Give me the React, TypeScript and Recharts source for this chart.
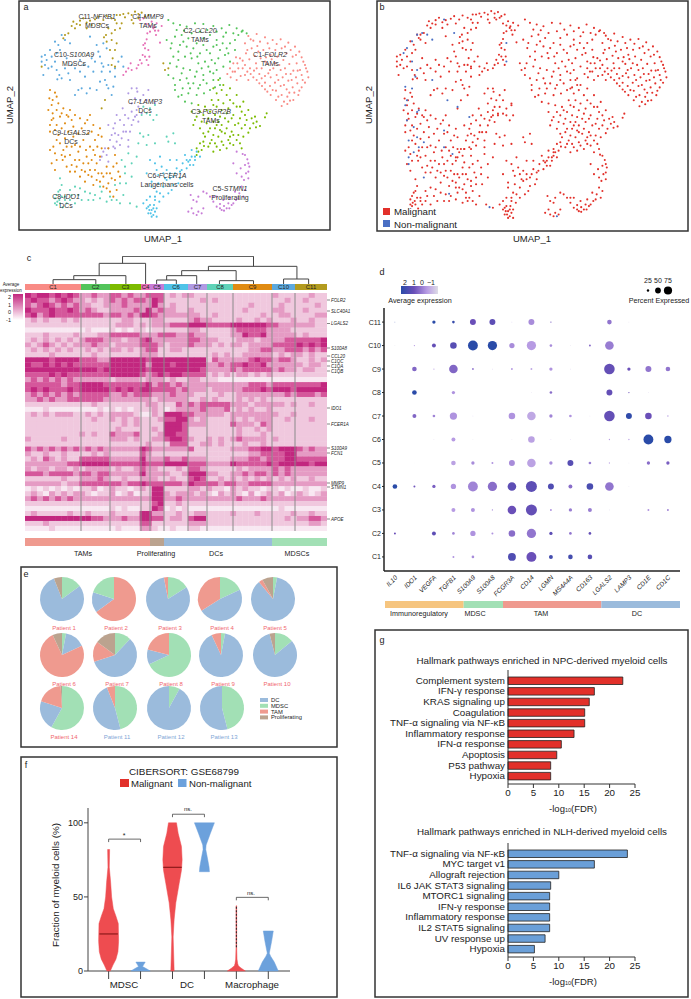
import React from "react";
import {
  Bar,
  BarChart,
  Cell,
  Pie,
  PieChart,
  ReferenceLine,
  Scatter,
  ScatterChart,
  XAxis,
  YAxis,
} from "recharts";

type Pt = [number, number];

// UMAP embedding
const c1: Pt[] = [[745,108],[770,102],[795,112],[818,120],[842,118],[865,128],[885,140],[898,155],[905,172],[915,195],[922,215],[925,232],[915,248],[905,262],[895,285],[880,300],[862,312],[845,318],[828,300],[812,285],[795,268],[778,250],[760,232],[742,215],[722,228],[705,215],[690,205],[682,222],[700,190],[720,175],[738,160],[755,145],[772,138],[790,150],[808,145],[826,150],[845,145],[860,160],[878,170],[890,190],[900,210],[888,232],[872,222],[855,205],[838,195],[820,205],[803,192],[785,205],[768,190],[750,205],[735,195],[748,178],[765,168],[782,175],[798,172],[815,178],[832,170],[850,180],[868,192],[880,212],[865,242],[848,232],[830,225],[812,232],[795,228],[778,222],[762,212],[745,240],[728,205],[710,240],[692,232],[842,258],[860,268],[878,262],[828,272],[845,285],[862,290],[810,258],[795,248],[825,248],[812,165],[905,225],[892,250],[735,130],[760,122],[708,172],[752,118],[780,125],[803,130],[830,132],[855,140],[872,150],[888,165],[910,185],[918,205],[908,240],[898,272],[870,302],[852,305],[835,290],[818,270],[802,275],[786,258],[770,240],[752,222],[735,225],[715,205],[698,215],[712,190],[728,182],[742,150],[775,155],[795,185],[810,210],[825,190],[842,210],[858,222],[875,240],[893,212],[883,278],[868,278],[852,255],[835,240],[805,220],[785,235],[770,205]];
const c2: Pt[] = [[505,60],[520,70],[540,75],[560,80],[585,70],[610,72],[640,78],[665,85],[688,75],[710,85],[725,95],[740,100],[500,120],[512,145],[525,110],[545,105],[565,115],[590,130],[610,115],[630,105],[650,120],[670,110],[690,130],[705,120],[660,150],[640,140],[620,150],[600,160],[580,145],[560,140],[540,135],[520,170],[535,180],[555,170],[575,175],[595,190],[615,185],[635,180],[655,175],[675,165],[690,185],[670,200],[650,210],[630,215],[610,225],[590,215],[570,210],[550,205],[530,200],[520,235],[540,240],[560,235],[580,250],[600,255],[620,250],[640,240],[660,235],[548,265],[565,280],[590,285],[612,280],[535,290],[555,305],[575,310],[630,270],[645,262],[728,92],[715,105],[680,145],[530,90],[552,92],[575,100],[600,95],[622,90],[650,95],[678,98],[700,100],[515,130],[535,155],[550,125],[572,160],[592,170],[610,135],[630,160],[650,135],[668,130],[685,160],[705,150],[645,190],[625,200],[605,205],[585,230],[565,250],[545,220],[525,255],[510,190],[505,225],[570,265],[595,265],[610,240],[640,220],[660,255],[545,285],[525,270]];
const c3: Pt[] = [[655,240],[670,255],[690,265],[710,285],[730,305],[650,280],[635,300],[615,320],[595,315],[575,335],[590,350],[610,345],[630,335],[650,320],[670,310],[690,300],[710,320],[725,335],[745,330],[765,350],[780,378],[760,370],[740,360],[720,355],[700,345],[680,340],[660,350],[640,365],[620,370],[600,385],[580,375],[625,395],[645,385],[665,375],[685,365],[705,375],[725,385],[745,398],[715,405],[695,395],[675,400],[655,410],[635,420],[615,410],[600,430],[590,445],[605,450],[625,440],[645,430],[665,425],[685,420],[700,435],[720,430],[680,445],[660,450],[725,445],[640,455],[750,385],[768,382],[655,365],[665,395],[690,410],[795,352],[800,340],[590,465],[610,425],[665,270],[680,285],[700,310],[720,320],[640,315],[620,330],[600,335],[585,360],[605,365],[625,355],[645,345],[665,330],[685,325],[735,345],[755,355],[770,365],[735,375],[715,370],[695,355],[675,355],[650,375],[630,385],[610,400],[640,405],[660,390],[680,385],[700,405],[730,410],[710,420],[690,430],[670,435],[650,440],[630,430],[612,438],[595,455],[655,300],[640,265]];
const c4: Pt[] = [[420,60],[440,72],[460,85],[475,92],[450,95],[468,105],[440,118],[430,135],[445,150],[428,165],[440,180],[425,190],[445,195],[392,190],[378,215],[370,225],[410,205],[485,78],[470,70],[455,65],[462,80],[480,128],[442,100],[435,145],[420,180],[395,210],[430,55],[450,78],[465,92],[435,130],[435,170],[448,170],[415,195],[385,205]];
const c5: Pt[] = [[710,455],[728,462],[742,478],[748,500],[738,520],[732,540],[725,560],[718,580],[708,600],[695,615],[680,625],[665,630],[650,620],[640,605],[630,590],[650,590],[670,600],[690,595],[705,575],[710,520],[722,505],[735,495],[610,575],[595,590],[580,600],[572,585],[565,635],[580,640],[595,635],[610,625],[688,625],[672,618],[700,490],[745,535],[730,590],[672,632],[735,465],[745,490],[725,530],[735,570],[715,595],[700,610],[685,610],[660,612],[640,590],[620,580],[590,605],[575,625],[590,645],[605,640],[660,625],[745,515]];
const c6: Pt[] = [[575,470],[565,485],[580,495],[570,480],[555,465],[548,490],[530,505],[510,520],[495,535],[520,530],[540,515],[560,505],[480,470],[465,490],[485,500],[500,510],[475,525],[455,560],[470,575],[490,560],[465,600],[450,615],[440,600],[430,610],[455,630],[445,640],[460,645],[470,625],[462,615],[450,590],[490,590],[505,580],[520,555],[540,535],[590,455],[600,470],[585,480],[455,650],[448,630],[465,635],[478,605],[530,480],[510,480],[450,480],[440,520],[475,550],[500,540],[570,495],[585,470],[545,510],[525,520],[510,535],[490,520],[470,510],[455,545],[480,580],[465,590],[445,620],[460,625],[452,640],[440,625],[470,650],[515,570],[535,550],[560,480],[575,450]];
const c7: Pt[] = [[410,265],[430,285],[405,295],[385,280],[395,310],[415,320],[425,340],[405,350],[395,375],[415,365],[378,395],[385,420],[365,415],[345,400],[360,435],[340,440],[320,465],[305,470],[315,445],[330,420],[345,370],[325,375],[350,345],[368,325],[385,355],[400,360],[410,345],[440,300],[465,310],[445,270],[325,485],[310,455],[350,425],[370,395],[395,265],[420,300],[410,330],[395,335],[375,345],[360,360],[340,385],[355,405],[372,375],[390,395],[345,445],[325,445],[300,480],[335,405],[385,440],[412,275]];
const c8: Pt[] = [[180,535],[185,555],[175,575],[165,595],[180,610],[170,615],[188,622],[178,600],[195,590],[210,570],[225,560],[240,565],[255,575],[270,580],[285,585],[300,595],[320,605],[335,600],[350,600],[370,585],[390,610],[410,620],[245,600],[265,600],[225,610],[210,600],[200,610],[440,340],[450,325],[430,320],[470,345],[465,315],[420,400],[445,405],[465,430],[440,435],[415,430],[505,425],[520,400],[525,430],[500,410],[365,480],[385,460],[375,500],[360,550],[378,550],[460,360],[395,530],[345,555],[300,560],[170,585],[185,590],[172,605],[195,600],[215,585],[235,585],[280,600],[305,575],[330,590],[360,610],[425,345],[450,345],[430,410],[410,470],[395,490],[375,520],[180,570],[165,610]];
const c9: Pt[] = [[150,270],[165,278],[148,295],[155,315],[145,330],[158,340],[175,310],[190,325],[210,330],[200,345],[180,350],[160,355],[150,375],[170,375],[195,370],[215,360],[240,355],[262,360],[280,375],[300,385],[150,395],[175,405],[195,415],[220,410],[245,385],[265,400],[285,420],[305,410],[180,430],[160,440],[165,460],[155,490],[165,510],[200,440],[225,435],[250,420],[270,440],[292,440],[185,465],[210,465],[235,455],[260,470],[285,465],[305,445],[215,495],[225,515],[245,510],[265,490],[290,490],[320,500],[350,490],[240,530],[265,525],[285,510],[310,530],[330,520],[355,515],[345,540],[325,550],[310,560],[330,575],[350,570],[290,540],[280,555],[255,545],[200,500],[188,480],[238,480],[150,450],[345,465],[325,445],[170,330],[220,380],[270,345],[155,360],[305,520],[158,300],[170,290],[185,340],[205,350],[225,345],[165,390],[185,385],[205,395],[235,400],[255,370],[275,395],[295,405],[170,420],[190,450],[215,440],[240,440],[258,450],[280,450],[300,470],[170,480],[195,470],[225,480],[250,490],[275,480],[230,500],[255,515],[275,530],[295,520],[320,520],[340,500],[335,535],[360,530],[300,545],[320,565],[340,590],[270,510],[210,515]];
const c10: Pt[] = [[185,105],[165,125],[175,135],[150,150],[135,165],[125,185],[135,195],[130,225],[145,205],[165,185],[178,225],[185,235],[172,238],[195,205],[215,195],[240,180],[265,200],[285,185],[300,170],[320,145],[290,135],[270,110],[305,215],[315,240],[300,245],[325,265],[335,285],[270,265],[245,265],[225,285],[210,240],[355,185],[370,200],[325,195],[345,230],[255,230],[180,150],[200,175],[155,170],[125,170],[305,190],[240,215],[195,120],[210,130],[170,160],[140,180],[155,200],[170,210],[205,220],[225,205],[250,195],[275,175],[295,155],[310,130],[310,200],[330,215],[320,255],[340,260],[290,270],[260,280],[235,270],[345,205],[365,170],[280,215]];
const c11: Pt[] = [[220,65],[240,62],[260,68],[285,58],[310,60],[335,55],[360,45],[385,40],[405,35],[425,38],[445,45],[365,70],[345,90],[325,85],[335,120],[320,125],[350,130],[330,150],[338,175],[345,200],[225,85],[205,100],[190,115],[300,72],[275,75],[415,55],[395,60],[375,52],[350,70],[490,190],[495,210],[505,205],[315,300],[305,325],[125,200],[318,105],[240,75],[260,85],[350,45],[230,72],[250,55],[270,62],[295,50],[320,48],[345,60],[370,42],[395,45],[415,42],[435,50],[360,85],[335,100],[312,112],[345,150],[335,195],[215,78],[195,105],[400,70]];
const nonMalignant: Pt[] = [[185,105],[200,100],[215,105],[230,120],[265,60],[295,100],[170,125],[155,145],[145,160],[170,185],[185,210],[180,230],[230,240],[150,260],[170,265],[155,300],[150,315],[185,335],[275,300],[305,320],[340,350],[155,360],[175,380],[160,420],[185,410],[205,425],[190,440],[160,470],[160,490],[205,530],[280,578],[450,130],[450,185],[400,618],[600,645],[190,330],[265,390],[290,460],[265,440],[175,455]];

const clusterNames = ["C1","C2","C3","C4","C5","C6","C7","C8","C9","C10","C11"];
const clusterSizes = [56,29,31,9,14,24,19,26,39,23,32];
const clusterColors = ["#F98B85","#53C45A","#7CBB00","#E66FB6","#C77CD7","#4FC3E8","#B09AE3","#5FD3B8","#E08B12","#5CA9DE","#B39B1F"];
const clusterPoints = [c1,c2,c3,c4,c5,c6,c7,c8,c9,c10,c11];

// heatmap expression levels 0-4, one row per gene band, grouped by cluster
const heatRows = [
  "434434343 22322 33232 23 33 1212 211 1111 1111111 2111 11211",
  "343323432 21212 32323 32 43 1111 112 1211 1111111 1121 12111",
  "323432323 22112 22322 22 42 1211 111 1111 1112111 1211 11121",
  "433343343 23211 22223 24 23 2211 211 1111 1121111 2211 12111",
  "342343333 33332 33232 44 32 2222 221 1211 1111121 1221 11122",
  "121211212 11111 11221 11 22 1111 232 2111 1211212 1112 11211",
  "111111111 11111 12221 21 22 2333 444 3333 4444443 3222 22211",
  "000000000 01000 10101 10 11 1111 221 1111 2333332 2221 11111",
  "111211112 11122 33333 22 23 3322 322 1111 2243342 2222 12111",
  "121212121 23332 22122 34 22 2222 332 2211 1222122 2233 33334",
  "212321212 22322 12222 33 32 1222 322 2121 2212222 3333 43434",
  "121212121 12121 22121 23 31 1221 111 1111 1112233 2233 32323",
  "111121111 11211 11111 22 21 1111 111 1212 1122222 1212 21211",
  "444434444 33322 44444 43 44 4444 444 1322 2223433 2332 11212",
  "433434343 33333 44444 42 44 4344 444 2232 3343342 2222 21221",
  "444444444 44434 44444 43 44 4444 443 2222 3233333 2322 12211",
  "333343433 33333 44444 32 34 3443 333 1212 1221212 1111 11111",
  "232323232 22222 12222 12 22 1211 221 1100 0000000 0000 00000",
  "333333233 44443 33333 34 23 3232 222 2222 2223332 3333 33334",
  "343433343 44444 34343 44 33 3323 222 1222 2233343 4443 44444",
  "232323232 33333 22323 33 22 2322 211 1121 1222222 2232 33323",
  "223232233 33332 22222 22 12 2222 112 1211 1212121 1111 11111",
  "111111111 11211 11111 12 21 1132 323 3333 2221222 2212 11211",
  "000100000 00010 10101 11 21 0122 223 2223 1212112 1111 11111",
  "121212221 12121 22221 00 21 4443 322 2221 2222222 2112 11111",
  "111111111 11211 21212 11 12 3344 212 1111 2121222 1121 11211",
  "111111111 11111 11212 11 11 4443 222 1111 3222132 1111 11111",
  "111111111 11111 12111 11 21 4443 111 1111 1211212 1111 11111",
  "111111111 21211 32223 11 12 4433 111 1111 1211121 1111 11111",
  "211111211 11111 22212 11 22 3443 211 2121 2322221 2111 11111",
  "111111111 11111 11111 12 11 1333 112 2121 1121121 1111 11111",
  "323232323 23232 22222 43 22 2222 311 1111 2223344 3444 32322",
  "211211211 11212 11111 32 11 1111 111 1111 1112233 3344 22222",
  "121321211 33333 22222 42 22 3223 222 1111 2223323 3344 33333",
  "222222233 44444 33333 43 33 4444 333 2222 4333334 3444 44344",
  "212212212 12222 12112 32 21 1121 332 1111 1212222 3232 22222",
  "333233332 33233 22222 42 22 2112 444 2211 2232332 3232 22222",
  "111111211 22232 11211 22 21 1211 343 1121 2121212 1212 11211",
  "222222122 33333 33233 43 33 3332 433 3323 3223333 2222 22222",
  "010101010 11201 21101 21 44 1111 221 2110 2121101 1010 01001",
  "121021212 21011 20120 11 44 2122 212 1021 2102012 1201 21012",
  "232323232 22222 22222 22 44 2232 222 2222 2322232 2222 22222",
  "111111111 11111 11111 11 34 1121 111 1111 1111111 1111 11111",
  "000000000 00000 10100 11 43 0101 000 0000 0000000 0100 00000",
  "121111121 12111 21111 44 22 1121 122 1111 2111211 1112 11211",
  "444444444 44332 22322 44 33 1221 344 1111 1111111 1121 22332",
  "111211111 11111 11111 33 11 1111 222 1111 1111111 1111 11221",
  "000010000 00000 01000 22 10 0100 110 0000 0000000 0000 00000",
];
const heatColors = ["#F8E8F2","#F0C8DE","#E59BC4","#D5579B","#C2277F"];
const geneMarks = ["FOLR2","SLC40A1","LGALS2","S100A8","CCL20","C1QC","C1QA","C1QB","IDO1","FCER1A","S100A9","FCN1","MMP9","STMN1","APOE"];
const geneMarkY = [300,311,323.5,348,356,361,366,371,408,424,448,453,483,487,519];

// [left x, left height, right x, right height, merge height]
const dendroMerges = [
  [160,0,288,0,13],
  [222,13,378,0,25],
  [298,25,437,0,62],
  [470,0,529,0,12],
  [500,12,590,0,25],
  [658,0,760,0,10],
  [545,25,708,10,40],
  [850,0,925,0,15],
  [625,40,890,15,53],
  [368,62,760,53,83],
];

const lineageNames = ["TAMs","Proliferating","DCs","MDSCs"];
const lineageSizes = [125,14,108,55];
const lineageColors = ["#EF9A8F","#BBA38F","#9BBBDC","#A2E0B5"];

// dot plot
const dotGenes = ["IL10","IDO1","VEGFA","TGFB1","S100A9","S100A8","FCGR3A","CD14","LGMN","MS4A4A","CD163","LGALS2","LAMP3","CD1E","CD1C"];
const dotPercent: Record<string, number[]> = {
  C11: [6,0,30,24,54,54,6,54,12,0,0,42,6,0,0],
  C10: [6,12,36,60,90,84,48,84,24,6,18,78,0,0,0],
  C9: [0,42,12,78,18,6,18,18,30,6,0,96,30,54,42],
  C8: [0,42,0,30,0,0,0,6,24,0,0,54,12,6,0],
  C7: [0,36,24,66,6,0,60,78,30,24,6,96,54,60,12],
  C6: [0,0,6,36,6,0,6,60,6,6,0,12,12,90,66],
  C5: [0,3,0,42,30,18,54,78,30,54,24,12,6,30,30],
  C4: [42,18,30,48,90,84,78,100,54,36,60,78,6,0,0],
  C3: [0,0,0,36,36,12,78,100,18,30,36,6,0,18,18],
  C2: [18,0,36,24,48,18,60,84,30,24,24,0,0,0,0],
  C1: [0,0,0,18,24,0,72,90,36,42,42,0,0,0,0],
};
const dotExpression: Record<string, number[]> = {
  C11: [1.8,0,2,1.8,1,1.2,-0.3,0.2,0.8,0,0,0.5,-0.8,0,0],
  C10: [-1,0,1.1,1.3,2,2,0.2,0,0.2,-0.8,0.6,0.4,0,0,0],
  C9: [0,0.7,-0.2,0.7,0.4,-0.3,0,-0.2,0.1,-0.5,0,1.1,1,0.5,0.5],
  C8: [0,2,0,0.1,0,0,0,-0.6,0.6,0,0,1.1,0.9,-0.5,0],
  C7: [0,0.7,0.3,0.1,-0.3,0,0.1,-0.2,0.3,0.1,-0.6,1.1,1.9,1,0.1],
  C6: [0,0,-0.5,0,-0.8,0,-0.7,-0.1,-0.3,-0.3,0,0,0,2,2],
  C5: [0,-1,0,-0.1,0.2,0.1,0.2,-0.1,0.2,1.3,0.4,-0.2,-0.8,0.6,0.8],
  C4: [2,0.9,0.8,0.1,0.3,0.6,1.2,1.2,1.4,0.6,1.5,0.5,-0.7,0,0],
  C3: [0,0,0,0,0.1,0.2,1,1.1,0.1,0.4,0.4,-0.6,0,0.1,0.3],
  C2: [1,0,1.2,0.3,0.1,0.1,0.6,0.5,1.2,0.5,1.1,0,0,0,0],
  C1: [0,0,0,0.1,0.2,0,1.4,1,1.6,1.6,1.3,0,0,0,0],
};
const geneGroups = ["Immunoregulatory","MDSC","TAM","DC"];
const geneGroupSizes = [4,2,5,4];
const geneGroupColors = ["#F6C57F","#A2E0B5","#EF9A8F","#9BBBDC"];

// pies
const patientNames = ["Patient 1","Patient 2","Patient 3","Patient 4","Patient 5","Patient 6","Patient 7","Patient 8","Patient 9","Patient 10","Patient 14","Patient 11","Patient 12","Patient 13"];
const patientMDSC = [15,20,16,18,3,3,12,68,3,14,58,46,8,46];
const patientDC = [79,15,81,48,86,15,58,11,90,82,22,48,92,54];
const patientTAM = [0,65,3,34,3,75,15,21,7,0,19,6,0,0];
const patientProlif = [6,0,0,0,8,7,15,0,0,4,1,0,0,0];
const sliceNames = ["DC","MDSC","TAM","Proliferating"];

// violins: [fraction %, half width]
const violinMdscMal: Pt[] = [[82,3],[70,2],[60,6],[50,9],[42,14],[37,22],[32,29],[20,30],[13,28],[8,22],[4,13],[0,5]];
const violinMdscNon: Pt[] = [[6,14],[4.5,10],[3,6],[1.5,18],[0,29]];
const violinDcMal: Pt[] = [[100,12],[93,17],[84,27],[75,29],[68,27],[59,20],[46,10],[35,5],[23,2],[0,5]];
const violinDcNon: Pt[] = [[100,30],[93,18],[85,5],[82,4],[75,10],[70,14],[67,15]];
const violinMacMal: Pt[] = [[44,1],[16,1],[8,2],[5,4],[3.5,6],[2,14],[0,27]];
const violinMacNon: Pt[] = [[27,15],[20,10],[12,3],[10,7],[6,18],[0,30]];
const violinList = [violinMdscMal,violinMdscNon,violinDcMal,violinDcNon,violinMacMal,violinMacNon];
const violinMedians = [25,null,70,null,null,null];
const violinGroups = ["MDSC","DC","Macrophage"];

// hallmark bars
const npcPathways = ["Complement system","IFN-γ response","KRAS signaling up","Coagulation","TNF-α signaling via NF-κB","Inflammatory response","IFN-α response","Apoptosis","P53 pathway","Hypoxia"];
const npcFdr = [22.6,17,16,15.1,15.1,13,10.5,9.6,8.4,8.4];
const nlhPathways = ["TNF-α signaling via NF-κB","MYC target v1","Allograft rejection","IL6 JAK STAT3 signaling","MTORC1 signaling","IFN-γ response","Inflammatory response","IL2 STAT5 signaling","UV response up","Hypoxia"];
const nlhFdr = [23.5,17,10,8.4,8.2,8.2,8.2,8.2,7.3,5.2];

const FONT = "'Liberation Sans', Arial, sans-serif";
const INK = "#222";
const RED = "#E2302A";
const BLUE = "#4A6FC4";
const VIOLIN_RED = "#EE4C50";
const VIOLIN_BLUE = "#6CA1DC";
const NONE = { top: 0, right: 0, bottom: 0, left: 0 };

const Place = ({ x, y, children }: any) => (
  <div style={{ position: "absolute", left: x, top: y }}>{children}</div>
);

const T = ({ x, y, size = 8, anchor = "middle", fill = INK, italic, rotate, children }: any) => (
  <text
    x={x}
    y={y}
    fontSize={size}
    textAnchor={anchor}
    dominantBaseline="central"
    fill={fill}
    fontStyle={italic ? "italic" : undefined}
    transform={rotate ? `rotate(${rotate} ${x} ${y})` : undefined}
  >
    {children}
  </text>
);

const toXY = (pts: Pt[]) => pts.map(([x, y]) => ({ x, y }));

const tinyDot = (r: number) => (p: any) => <circle cx={p.cx} cy={p.cy} r={r} fill={p.fill} />;

const Umap = ({ x, y, w, h, xDomain, yDomain, layers }: any) => (
  <Place x={x} y={y}>
    <ScatterChart width={w} height={h} margin={NONE}>
      <XAxis type="number" dataKey="x" domain={xDomain} hide />
      <YAxis type="number" dataKey="y" domain={yDomain} reversed hide />
      {layers.map((l: any, i: number) => (
        <Scatter key={i} data={toXY(l.points)} fill={l.color} shape={tinyDot(1.05)} isAnimationActive={false} />
      ))}
    </ScatterChart>
  </Place>
);

const StackBar = ({ x, y, w, h, names, sizes, colors }: any) => {
  const row: any = {};
  names.forEach((n: string, i: number) => (row[n] = sizes[i]));
  const total = sizes.reduce((a: number, b: number) => a + b, 0);
  return (
    <Place x={x} y={y}>
      <BarChart layout="vertical" width={w} height={h} data={[row]} margin={NONE} barCategoryGap={0}>
        <XAxis type="number" domain={[0, total]} hide />
        <YAxis type="category" hide />
        {names.map((n: string, i: number) => (
          <Bar key={n} dataKey={n} stackId="s" fill={colors[i]} isAnimationActive={false} />
        ))}
      </BarChart>
    </Place>
  );
};

const HEAT_W = 302;
const HEAT_H = 238;
const HEAT_COLS = 50;
const heatCells = heatRows.flatMap((row, r) =>
  row.replace(/ /g, "").split("").map((level, c) => ({ col: c + 0.5, row: r + 0.5, level: Number(level) }))
);
const heatCell = (p: any) => {
  const w = HEAT_W / HEAT_COLS + 0.3;
  const h = HEAT_H / heatRows.length + 0.3;
  return <rect x={p.cx - w / 2} y={p.cy - h / 2} width={w} height={h} fill={heatColors[p.payload.level]} />;
};
const boundaries = clusterSizes.slice(0, -1).map((_, i) => clusterSizes.slice(0, i + 1).reduce((a, b) => a + b, 0));

const Heatmap = () => (
  <Place x={25} y={293}>
    <ScatterChart width={HEAT_W} height={HEAT_H} margin={NONE}>
      <XAxis type="number" dataKey="col" domain={[0, HEAT_COLS]} hide />
      <YAxis type="number" dataKey="row" domain={[0, heatRows.length]} reversed hide />
      <Scatter data={heatCells} shape={heatCell} isAnimationActive={false} />
      {boundaries.map((b) => (
        <Scatter
          key={b}
          data={[{ col: (b / HEAT_W) * HEAT_COLS, row: 0 }, { col: (b / HEAT_W) * HEAT_COLS, row: heatRows.length }]}
          line={{ stroke: "#8A8A8A", strokeWidth: 1 }}
          shape={() => <g />}
          isAnimationActive={false}
        />
      ))}
    </ScatterChart>
  </Place>
);

const Dendrogram = () => (
  <Place x={25} y={255.5}>
    <ScatterChart width={HEAT_W} height={28} margin={NONE}>
      <XAxis type="number" dataKey="x" domain={[76, 980]} hide />
      <YAxis type="number" dataKey="y" domain={[0, 84]} hide />
      {dendroMerges.map(([lx, lh, rx, rh, h], i) => (
        <Scatter
          key={i}
          data={[{ x: lx, y: lh }, { x: lx, y: h }, { x: rx, y: h }, { x: rx, y: rh }]}
          line={{ stroke: "#444", strokeWidth: 1 }}
          shape={() => <g />}
          isAnimationActive={false}
        />
      ))}
    </ScatterChart>
  </Place>
);

const exprStops: [number, number[]][] = [
  [-1, [222, 220, 230]],
  [0, [183, 155, 227]],
  [1, [106, 79, 184]],
  [2, [42, 75, 168]],
];
const exprColor = (v: number) => {
  let i = 0;
  while (i < exprStops.length - 2 && v > exprStops[i + 1][0]) i++;
  const [a, ca] = exprStops[i];
  const [b, cb] = exprStops[i + 1];
  const t = Math.max(0, Math.min(1, (v - a) / (b - a)));
  return `rgb(${ca.map((c, k) => Math.round(c + (cb[k] - c) * t)).join(",")})`;
};

const dotRows = clusterNames.flatMap((name, row) =>
  dotGenes.map((gene, col) => ({
    col,
    row: row + 1,
    pct: dotPercent[name][col],
    expr: dotExpression[name][col],
  }))
).filter((d) => d.pct > 0);

const GeneTick = ({ x, y, payload }: any) => (
  <text
    x={x + 3}
    y={y + 7}
    fontSize={6.5}
    fontStyle="italic"
    fill={INK}
    textAnchor="end"
    transform={`rotate(-45 ${x + 3} ${y + 7})`}
  >
    {dotGenes[payload.value]}
  </text>
);

const DotPlot = () => (
  <Place x={350} y={308}>
    <ScatterChart width={335} height={295} margin={{ top: 0, right: 5, bottom: 0, left: 0 }}>
      <XAxis
        type="number"
        dataKey="col"
        domain={[-0.56, 14.62]}
        ticks={dotGenes.map((_, i) => i)}
        interval={0}
        height={32}
        tick={<GeneTick />}
        tickLine={false}
        tickSize={0}
        tickMargin={0}
        axisLine={{ stroke: INK, strokeWidth: 1.5 }}
      />
      <YAxis
        type="number"
        dataKey="row"
        domain={[0.4, 11.6]}
        ticks={clusterNames.map((_, i) => i + 1)}
        interval={0}
        width={34}
        tickFormatter={(v: number) => `C${v}`}
        tick={{ fontSize: 7, fill: INK }}
        tickSize={2}
        tickMargin={1}
        axisLine={{ stroke: INK, strokeWidth: 1.5 }}
        tickLine={{ stroke: INK }}
      />
      <Scatter
        data={dotRows}
        isAnimationActive={false}
        shape={(p: any) => (
          <circle cx={p.cx} cy={p.cy} r={p.payload.pct * 0.055} fill={exprColor(p.payload.expr)} />
        )}
      />
    </ScatterChart>
  </Place>
);

const PIE_R = 22;
const pieCenters = [[62,599],[114,599],[168,599],[220,599],[273,599],[62,655],[115,655],[169,655],[221,655],[275,655],[62,708],[115,708],[169,708],[222,708]];
const sliceColor: Record<string, string> = { DC: "#9BBBDC", MDSC: "#A2E0B5", TAM: "#EF9A8F", Proliferating: "#BBA38F" };

const Pies = () => (
  <Place x={21} y={567}>
    <PieChart width={316} height={180} margin={NONE}>
      {patientNames.map((name, i) => {
        const slices = [
          { name: "MDSC", value: patientMDSC[i] },
          { name: "DC", value: patientDC[i] },
          { name: "TAM", value: patientTAM[i] },
          { name: "Proliferating", value: patientProlif[i] },
        ];
        // patient 2 is drawn with the TAM wedge first
        const ordered = i === 1 ? [slices[2], slices[1], slices[0], slices[3]] : slices;
        return (
          <Pie
            key={name}
            data={ordered}
            dataKey="value"
            cx={pieCenters[i][0] - 21}
            cy={pieCenters[i][1] - 567}
            outerRadius={PIE_R}
            startAngle={90}
            endAngle={-270}
            stroke="none"
            isAnimationActive={false}
          >
            {ordered.map((s) => (
              <Cell key={s.name} fill={sliceColor[s.name]} />
            ))}
          </Pie>
        );
      })}
    </PieChart>
  </Place>
);

const VIOLIN_UNIT = 96;
const violinOutline = (pts: Pt[], pos: number) => [
  ...pts.map(([y, hw]) => ({ x: pos + hw / VIOLIN_UNIT, y })),
  ...[...pts].reverse().map(([y, hw]) => ({ x: pos - hw / VIOLIN_UNIT, y })),
];
const bracket = (x1: number, x2: number, y: number, drop: number) => [
  [x1, y - drop, x1, y],
  [x1, y, x2, y],
  [x2, y, x2, y - drop],
];

const violinShape = (color: string) => (p: any) => (
  <polygon points={p.points.map((q: any) => `${q.x},${q.y}`).join(" ")} fill={color} stroke={color} strokeWidth={0.5} />
);

const Violins = () => (
  <Place x={40} y={808}>
    <ScatterChart width={252} height={175} margin={{ top: 0, right: 2, bottom: 0, left: 0 }}>
      <XAxis
        type="number"
        dataKey="x"
        domain={[-0.646, 5.68]}
        ticks={[0, 1, 2, 3, 4, 5]}
        interval={0}
        tickFormatter={() => ""}
        height={12}
        tickSize={8}
        stroke="#444"
      />
      <YAxis
        type="number"
        dataKey="y"
        domain={[0, 110]}
        ticks={[0, 50, 100]}
        width={48}
        tick={{ fontSize: 9, fill: INK }}
        tickSize={4}
        tickMargin={1}
        stroke="#444"
      />
      {violinList.map((pts, i) => (
        <Scatter
          key={i}
          data={violinOutline(pts, i)}
          line={violinShape(i % 2 ? VIOLIN_BLUE : VIOLIN_RED)}
          shape={() => <g />}
          isAnimationActive={false}
        />
      ))}
      {violinMedians.map((m, i) =>
        m === null ? null : (
          <Scatter
            key={`median${i}`}
            data={[{ x: i - 0.29, y: m }, { x: i + 0.29, y: m }]}
            line={{ stroke: "#7A1010", strokeWidth: 1 }}
            shape={() => <g />}
            isAnimationActive={false}
          />
        )
      )}
      <Scatter
        data={[{ x: 4, y: 16 }, { x: 4, y: 44 }]}
        line={{ stroke: INK, strokeWidth: 1, strokeDasharray: "2 1.5" }}
        shape={() => <g />}
        isAnimationActive={false}
      />
      {[...bracket(0, 1, 89, 2), ...bracket(2, 3, 105.8, 2), ...bracket(4, 5, 49.7, 2)].map(([x1, y1, x2, y2], i) => (
        <ReferenceLine
          key={i}
          segment={[{ x: x1, y: y1 }, { x: x2, y: y2 }]}
          stroke="#444"
          strokeWidth={0.8}
          ifOverflow="visible"
        />
      ))}
    </ScatterChart>
  </Place>
);

const PathwayTick = ({ x, y, payload }: any) => (
  <text x={x} y={y} dy={3.4} fontSize={9.8} textAnchor="end" fill={INK}>
    {payload.value}
  </text>
);

const Hallmark = ({ y, names, values, fill }: any) => (
  <Place x={377} y={y}>
    <BarChart
      layout="vertical"
      width={264}
      height={134}
      data={names.map((name: string, i: number) => ({ name, fdr: values[i], key: i }))}
      margin={{ top: 0, right: 6, bottom: 0, left: 0 }}
    >
      <XAxis
        type="number"
        domain={[0, 25]}
        ticks={[0, 5, 10, 15, 20, 25]}
        height={20}
        tick={{ fontSize: 9.8, fill: INK }}
        tickSize={4}
        tickMargin={1}
        stroke="#333"
      />
      <YAxis
        type="category"
        dataKey="name"
        width={131}
        interval={0}
        tick={<PathwayTick />}
        tickLine={false}
        tickSize={0}
        tickMargin={3}
        stroke="#333"
        padding={{ top: 5, bottom: 3 }}
      />
      <Bar dataKey="fdr" fill={fill} stroke="#222" strokeWidth={0.8} barSize={7.5} isAnimationActive={false} />
    </BarChart>
  </Place>
);

const Fdr = ({ x, y }: any) => (
  <text x={x} y={y} fontSize={9.5} textAnchor="middle" dominantBaseline="central" fill={INK}>
    -log
    <tspan fontSize={5.5} dy={2}>10</tspan>
    <tspan dy={-2}>(FDR)</tspan>
  </text>
);

const clusterLabels: [string, string, string, number, number][] = [
  ["C11-", "NFKB1", "MDSCs", 97, 16],
  ["C4-", "MMP9", "TAMs", 148, 16],
  ["C2-", "CCL20", "TAMs", 200, 30],
  ["C1-", "FOLR2", "TAMs", 270, 54],
  ["C10-", "S100A9", "MDSCs", 74, 54],
  ["C7-", "LAMP3", "DCs", 145, 101],
  ["C3-", "FCGR2B", "TAMs", 211, 111],
  ["C9-", "LGALS2", "DCs", 71, 132],
  ["C6-", "FCER1A", "Langerhans cells", 167, 175],
  ["C5-", "STMN1", "Proliferating", 230, 188],
  ["C8-", "IDO1", "DCs", 66, 196],
];

const Frame = ({ x, y, w, h }: any) => (
  <rect x={x} y={y} width={w} height={h} fill="none" stroke="#333" strokeWidth={1.5} />
);

const Overlay = () => (
  <svg width={691} height={999} style={{ position: "absolute", left: 0, top: 0, pointerEvents: "none" }} fontFamily={FONT}>
    <defs>
      <linearGradient id="heatBar" x1="0" y1="0" x2="0" y2="1">
        <stop offset="0%" stopColor="#C2277F" />
        <stop offset="55%" stopColor="#E59BC4" />
        <stop offset="100%" stopColor="#FFFFFF" />
      </linearGradient>
      <linearGradient id="exprBar" x1="0" y1="0" x2="1" y2="0">
        <stop offset="0%" stopColor="#2A4BA8" />
        <stop offset="35%" stopColor="#6A4FB8" />
        <stop offset="70%" stopColor="#B79BE3" />
        <stop offset="100%" stopColor="#DEDCE6" />
      </linearGradient>
    </defs>

    <Frame x={19} y={1} w={311} h={229} />
    <T x={26} y={7} size={9}>a</T>
    <T x={9} y={105} size={9.5} rotate={-90}>UMAP_2</T>
    <T x={163} y={238} size={9.5}>UMAP_1</T>
    {clusterLabels.map(([pre, gene, sub, x, y]) => (
      <g key={pre}>
        <text x={x} y={y} fontSize={7} textAnchor="middle" dominantBaseline="central" fill="#333">
          {pre}
          <tspan fontStyle="italic">{gene}</tspan>
        </text>
        <T x={x} y={y + 9} size={7} fill="#333">{sub}</T>
      </g>
    ))}

    <Frame x={377} y={1} w={311} h={230} />
    <T x={382} y={7} size={9}>b</T>
    <T x={368} y={105} size={9.5} rotate={-90}>UMAP_2</T>
    <T x={532} y={238} size={9.5}>UMAP_1</T>
    <rect x={383} y={208} width={7} height={7} fill={RED} />
    <rect x={383} y={220} width={7} height={7} fill={BLUE} />
    <T x={394} y={211.5} size={9.7} anchor="start">Malignant</T>
    <T x={394} y={224} size={9.7} anchor="start">Non-malignant</T>

    <T x={29} y={258} size={9}>c</T>
    {clusterNames.map((n, i) => {
      const start = clusterSizes.slice(0, i).reduce((a, b) => a + b, 0);
      return <T key={n} x={25 + start + clusterSizes[i] / 2} y={287} size={6}>{n}</T>;
    })}
    {geneMarks.map((g, i) => (
      <g key={g}>
        <line x1={327} x2={330} y1={geneMarkY[i]} y2={geneMarkY[i]} stroke="#333" strokeWidth={0.6} />
        <T x={331} y={geneMarkY[i]} size={4.5} anchor="start" italic>{g}</T>
      </g>
    ))}
    <T x={11} y={284.5} size={4.5}>Average</T>
    <T x={11} y={290} size={4.5}>expression</T>
    <rect x={13} y={294} width={10} height={26} fill="url(#heatBar)" />
    <T x={11} y={297} size={5.5} anchor="end">2</T>
    <T x={11} y={305} size={5.5} anchor="end">1</T>
    <T x={11} y={312} size={5.5} anchor="end">0</T>
    <T x={11} y={320} size={5.5} anchor="end">-1</T>
    <T x={83} y={553} size={7.2}>TAMs</T>
    <T x={156} y={553} size={7.2}>Proliferating</T>
    <T x={216} y={553} size={7.2}>DCs</T>
    <T x={297} y={553} size={7.2}>MDSCs</T>

    <T x={382} y={272} size={9}>d</T>
    <rect x={401} y={286} width={37} height={8} fill="url(#exprBar)" />
    <T x={405} y={282} size={7}>2</T>
    <T x={414} y={282} size={7}>1</T>
    <T x={422} y={282} size={7}>0</T>
    <T x={431} y={282} size={7}>−1</T>
    <T x={420} y={300} size={7.2}>Average expression</T>
    <T x={648} y={280} size={7}>25</T>
    <T x={658} y={280} size={7}>50</T>
    <T x={668} y={280} size={7}>75</T>
    <circle cx={648} cy={290.5} r={1.2} fill="#000" />
    <circle cx={658} cy={290.5} r={2.9} fill="#000" />
    <circle cx={668} cy={290.5} r={4.1} fill="#000" />
    <T x={659} y={300} size={7.2}>Percent Expressed</T>
    <T x={419} y={613} size={7.2}>Immunoregulatory</T>
    <T x={475} y={613} size={7.2}>MDSC</T>
    <T x={541} y={613} size={7.2}>TAM</T>
    <T x={637} y={613} size={7.2}>DC</T>

    <Frame x={21} y={567} w={316} h={180} />
    <T x={26} y={574} size={9}>e</T>
    {patientNames.map((p, i) => (
      <T key={p} x={pieCenters[i][0] + 2} y={pieCenters[i][1] + 29} size={6} fill={i > 10 ? "#7FA6D6" : "#F0686E"}>{p}</T>
    ))}
    {sliceNames.map((s, i) => (
      <g key={s}>
        <rect x={260} y={698 + i * 5.8} width={8} height={4} fill={sliceColor[s]} />
        <T x={271} y={700 + i * 5.8} size={5.8} anchor="start">{s}</T>
      </g>
    ))}

    <Frame x={21} y={757} w={316} h={240} />
    <T x={26} y={765} size={9}>f</T>
    <T x={184} y={771} size={9.9}>CIBERSORT: GSE68799</T>
    <rect x={120} y={779} width={9} height={8} fill={RED} />
    <T x={131} y={783} size={9.6} anchor="start">Malignant</T>
    <rect x={178} y={779} width={8.5} height={8} fill={VIOLIN_BLUE} />
    <T x={189} y={783} size={9.6} anchor="start">Non-malignant</T>
    <T x={55} y={885} size={9.9} rotate={-90}>Fraction of myeloid cells (%)</T>
    {violinGroups.map((g, i) => (
      <T key={g} x={[124, 187, 252][i]} y={984} size={9.7}>{g}</T>
    ))}
    <T x={124} y={835} size={7}>*</T>
    <T x={188} y={809} size={6}>ns.</T>
    <T x={251} y={893} size={6}>ns.</T>

    <Frame x={375} y={630} w={313} h={367} />
    <T x={382} y={640} size={9}>g</T>
    <T x={542} y={660} size={9.8}>Hallmark pathways enriched in NPC-derived myeloid cells</T>
    <Fdr x={573} y={808} />
    <T x={542} y={831} size={9.8}>Hallmark pathways enriched in NLH-derived myeloid cells</T>
    <Fdr x={573} y={981} />
  </svg>
);

const allPoints = clusterPoints.flat();

export default function App() {
  return (
    <div style={{ position: "absolute", left: 0, top: 0, width: 691, height: 999, background: "#fff", fontFamily: FONT, overflow: "hidden" }}>
      <Umap
        x={19}
        y={0}
        w={311}
        h={230}
        xDomain={[57, 990]}
        yDomain={[0, 690]}
        layers={clusterPoints.map((points, i) => ({ points, color: clusterColors[i] }))}
      />
      <Umap
        x={377}
        y={1}
        w={311}
        h={230}
        xDomain={[66, 989]}
        yDomain={[5, 689]}
        layers={[{ points: allPoints, color: RED }, { points: nonMalignant, color: BLUE }]}
      />
      <Dendrogram />
      <StackBar x={25} y={284} w={HEAT_W} h={6} names={clusterNames} sizes={clusterSizes} colors={clusterColors} />
      <Heatmap />
      <StackBar x={25} y={538} w={HEAT_W} h={8} names={lineageNames} sizes={lineageSizes} colors={lineageColors} />
      <DotPlot />
      <StackBar x={385} y={601} w={295} h={7} names={geneGroups} sizes={geneGroupSizes} colors={geneGroupColors} />
      <Pies />
      <Violins />
      <Hallmark y={670} names={npcPathways} values={npcFdr} fill={RED} />
      <Hallmark y={843} names={nlhPathways} values={nlhFdr} fill="#6A9FD8" />
      <Overlay />
    </div>
  );
}
